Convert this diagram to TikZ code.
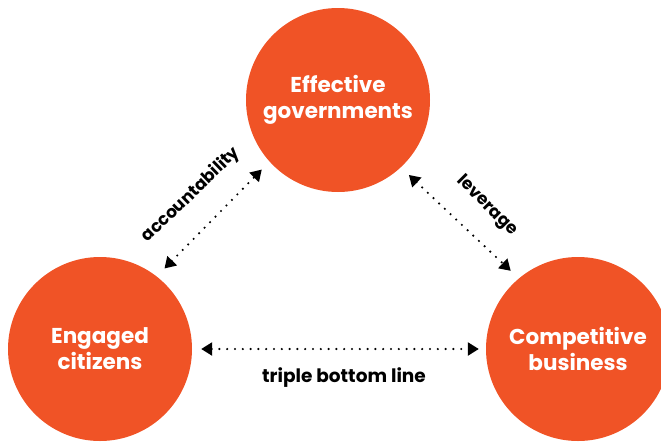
\documentclass[tikz,border=0pt]{standalone}
\usepackage{fontspec}
\setmainfont{Poppins}
\usetikzlibrary{arrows.meta}
\definecolor{orng}{RGB}{240,83,38}
\tikzset{
  hub/.style={circle, fill=orng, minimum size=184pt, inner sep=0pt, text=white,
    font=\fontsize{21.5}{26}\selectfont\bfseries, align=center},
  link/.style={line width=2.4pt, line cap=round, dash pattern=on 0pt off 7.8pt,
    {Triangle[length=11pt,width=13pt]}-{Triangle[length=11pt,width=13pt]}},
  lbl/.style={font=\fontsize{17}{19}\selectfont\bfseries, text=black}
}
\begin{document}
\begin{tikzpicture}[x=1pt,y=-1pt]
\useasboundingbox (0,0) rectangle (661,442);
\clip (0,0) rectangle (661,442);
\node[hub] (gov) at (338,100) {Effective\\governments};
\node[hub] (cit) at (100,349) {Engaged\\citizens};
\node[hub] (bus) at (578,349) {Competitive\\business};
\draw[link, shorten <=9pt, shorten >=7pt] (cit.east) -- (bus.west);
\draw[link, shorten <=11pt, shorten >=11pt] (cit.52) -- (gov.222);
\draw[link, shorten <=11pt, shorten >=11pt] (gov.-47) -- (bus.130);
\node[lbl, font=\fontsize{18.5}{20}\selectfont\bfseries] (tbl) at (344,378) {triple bottom line};
\node[lbl, rotate=44] (acc) at (191,195) {accountability};
\node[lbl, rotate=-45] (lev) at (487,206) {leverage};
\end{tikzpicture}
\end{document}
